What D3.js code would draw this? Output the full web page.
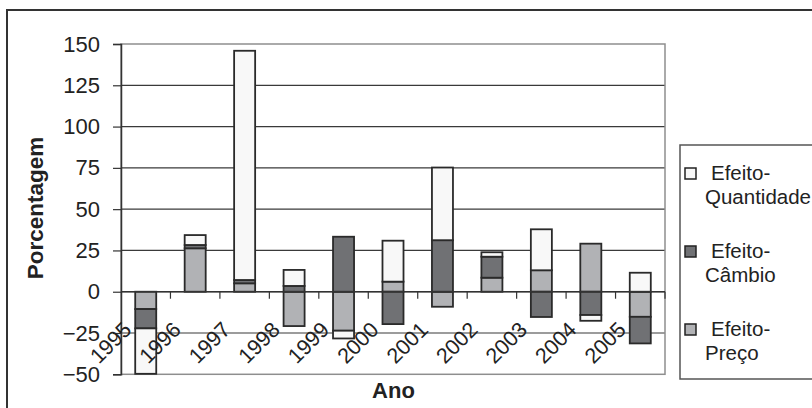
<!DOCTYPE html>
<html>
<head>
<meta charset="utf-8">
<script src="https://cdn.jsdelivr.net/npm/d3@7/dist/d3.min.js"></script>
<style>
  body { margin: 0; background: #fff; }
  svg { display: block; font-family: "Liberation Sans", Arial, sans-serif; }
</style>
</head>
<body>
<div class="container"></div>
<script>
// data
var years = ["1995", "1996", "1997", "1998", "1999", "2000", "2001", "2002", "2003", "2004", "2005"]
var preco = [-10.5, 26.3, 5.1, -20.8, -23.6, 6.1, -9.1, 8.5, 13.0, 29.1, -15.2]
var cambio = [-11.7, 2.0, 2.0, 3.5, 33.3, -19.6, 31.2, 12.7, -15.3, -14.1, -16.1]
var quantidade = [-27.5, 6.0, 138.8, 9.7, -4.7, 24.8, 44.0, 2.7, 24.8, -3.5, 11.5]
var yTicks = [-50, -25, 0, 25, 50, 75, 100, 125, 150]

var seriesNames = ["Efeito-Preço", "Efeito-Câmbio", "Efeito-Quantidade"]
var seriesValues = [preco, cambio, quantidade]
var colors = ["#b1b2b5", "#707174", "#f8f8f8"]

var width = 812,
  height = 408

var margin = { top: 44, left: 121, right: 665, bottom: 374.3 }

var svg = d3.select(".container").append("svg")
    .attr("width", width)
    .attr("height", height)

// outer chart border (runs off the right and bottom edges)
svg.append("rect")
  .attr("x", 7).attr("y", 10)
  .attr("width", 840).attr("height", 420)
  .attr("fill", "none")
  .attr("stroke", "#333")
  .attr("stroke-width", 2)

var x = d3.scaleBand()
  .domain(years)
  .range([margin.left, margin.right])
  .paddingInner(0.575)
  .paddingOuter(0.2875)

var xCat = d3.scaleBand()
  .domain(years)
  .range([margin.left, margin.right])

var y = d3.scaleLinear()
  .domain([-50, 150])
  .range([margin.bottom, margin.top])

// gridlines
svg.append("g")
  .selectAll("line")
  .data(yTicks.filter(function (d) { return d > -50 && d < 150 }))
  .enter().append("line")
  .attr("x1", margin.left).attr("x2", margin.right)
  .attr("y1", function (d) { return y(d) })
  .attr("y2", function (d) { return y(d) })
  .attr("stroke", "#3a3a3a")
  .attr("stroke-width", 1.2)

// plot area border
svg.append("rect")
  .attr("x", margin.left).attr("y", margin.top)
  .attr("width", margin.right - margin.left)
  .attr("height", margin.bottom - margin.top)
  .attr("fill", "none")
  .attr("stroke", "#8e8e8e")
  .attr("stroke-width", 1.5)

// stacked bars, positives and negatives stacked separately
var rows = years.map(function (yr, i) {
  var pos = 0, neg = 0
  return seriesValues.map(function (vals, s) {
    var v = vals[i], y0, y1
    if (v >= 0) { y0 = pos; y1 = pos + v; pos = y1 }
    else { y0 = neg; y1 = neg + v; neg = y1 }
    return { year: yr, s: s, y0: y0, y1: y1 }
  })
})

svg.append("g")
  .selectAll("g")
  .data(rows)
  .enter().append("g")
  .selectAll("rect")
  .data(function (d) { return d })
  .enter().append("rect")
  .attr("x", function (d) { return x(d.year) })
  .attr("width", x.bandwidth())
  .attr("y", function (d) { return y(Math.max(d.y0, d.y1)) })
  .attr("height", function (d) { return Math.abs(y(d.y0) - y(d.y1)) })
  .attr("fill", function (d) { return colors[d.s] })
  .attr("stroke", "#2a2a2a")
  .attr("stroke-width", 1.8)

// y axis
var yAxis = d3.axisLeft(y)
  .tickValues(yTicks)
  .tickSize(8)
  .tickPadding(13)

var gy = svg.append("g")
  .attr("transform", "translate(" + margin.left + ",0)")
  .call(yAxis)
gy.select(".domain").attr("stroke", "#333").attr("stroke-width", 1.5)
gy.selectAll(".tick line").attr("stroke", "#333").attr("stroke-width", 1.2)
gy.selectAll(".tick text")
  .attr("font-size", 22)
  .attr("font-family", "Liberation Sans, Arial, sans-serif")
  .attr("fill", "#222")

// category axis at zero
svg.append("line")
  .attr("x1", margin.left).attr("x2", margin.right)
  .attr("y1", y(0)).attr("y2", y(0))
  .attr("stroke", "#333").attr("stroke-width", 1.5)

svg.append("g")
  .selectAll("line")
  .data(years.slice(1).concat(["end"]))
  .enter().append("line")
  .attr("x1", function (d) { return d === "end" ? margin.right : xCat(d) })
  .attr("x2", function (d) { return d === "end" ? margin.right : xCat(d) })
  .attr("y1", y(0)).attr("y2", y(0) + 7)
  .attr("stroke", "#333").attr("stroke-width", 1.2)

svg.append("g")
  .selectAll("text")
  .data(years)
  .enter().append("text")
  .attr("transform", function (d) {
    return "translate(" + (xCat(d) + xCat.bandwidth() / 2 - 13) + ",331) rotate(-45)"
  })
  .attr("text-anchor", "end")
  .attr("font-size", 21.5)
  .attr("fill", "#222")
  .text(function (d) { return d })

// axis titles
svg.append("text")
  .attr("transform", "translate(43,208) rotate(-90)")
  .attr("text-anchor", "middle")
  .attr("font-size", 22.5)
  .attr("font-weight", "bold")
  .attr("fill", "#222")
  .text("Porcentagem")

svg.append("text")
  .attr("x", 393.5).attr("y", 398)
  .attr("text-anchor", "middle")
  .attr("font-size", 22)
  .attr("font-weight", "bold")
  .attr("fill", "#222")
  .text("Ano")

// legend
var legend = svg.append("g")
legend.append("rect")
  .attr("x", 680).attr("y", 145)
  .attr("width", 200).attr("height", 234)
  .attr("fill", "#fff")
  .attr("stroke", "#555")
  .attr("stroke-width", 1.5)

var legendOrder = [2, 1, 0]
var entries = legend.selectAll(".entry")
  .data(legendOrder)
  .enter().append("g")
  .attr("class", "entry")
  .attr("transform", function (d, i) { return "translate(0," + (180 + i * 78) + ")" })

entries.append("rect")
  .attr("x", 685).attr("y", -12)
  .attr("width", 11).attr("height", 11)
  .attr("fill", function (d) { return colors[d] })
  .attr("stroke", "#222")
  .attr("stroke-width", 1.5)

entries.append("text")
  .attr("x", 711).attr("y", 0)
  .attr("font-size", 20.5)
  .attr("fill", "#222")
  .text(function (d) { return seriesNames[d].split("-")[0] + "-" })

entries.append("text")
  .attr("x", 705).attr("y", 24)
  .attr("font-size", 20.5)
  .attr("fill", "#222")
  .text(function (d) { return seriesNames[d].split("-")[1] })
</script>
</body>
</html>
